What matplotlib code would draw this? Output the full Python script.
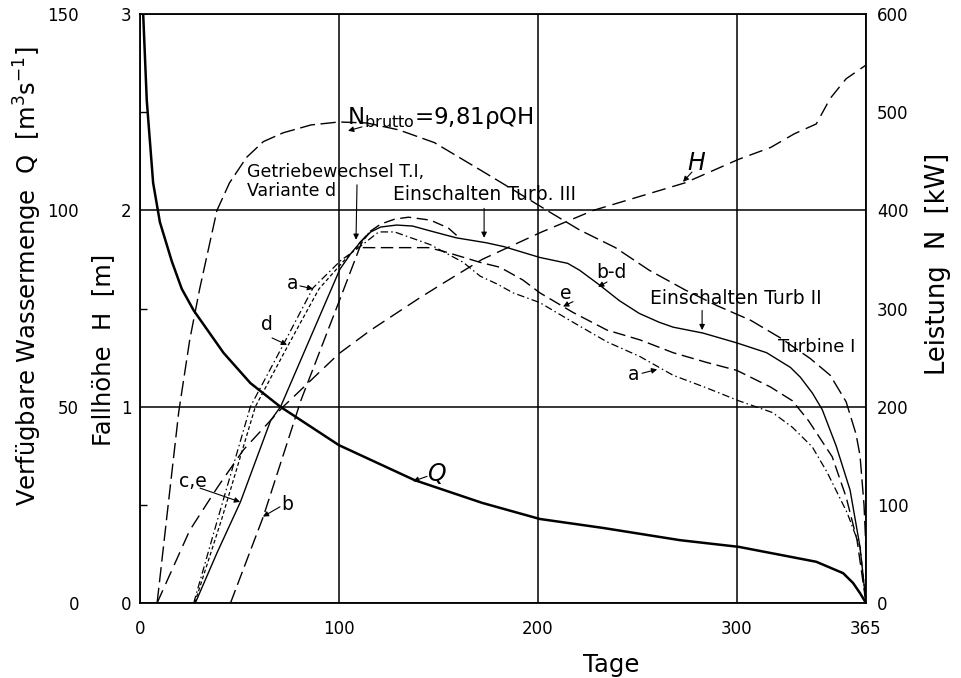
import matplotlib
matplotlib.use('Agg')
import matplotlib.pyplot as plt

# Wassermenge Q [m3/s]
q_days = [1.6, 3.4, 6.6, 10, 16, 21, 27, 42, 55.5, 70.5, 100, 138, 172, 201, 233, 271.5, 301, 340, 353.5, 358.5, 362, 365]
q_vals = [150, 128, 107, 97, 87, 80, 74.5, 63.7, 56, 50, 40.2, 31.3, 25.5, 21.4, 19.1, 16, 14.3, 10.5, 7.6, 5.1, 2.5, 0]

# Fallhoehe H [m]
h_days = [8.6, 25, 39, 52, 72, 100, 116, 140, 151, 172, 202, 228, 274, 301, 317, 329, 340, 347, 355, 365]
h_vals = [0, 0.37, 0.59, 0.78, 1.0, 1.27, 1.39, 1.55, 1.62, 1.75, 1.89, 2.0, 2.14, 2.26, 2.32, 2.39, 2.44, 2.57, 2.67, 2.74]

# Leistung N [kW]
nb_days = [8.6, 14, 19.5, 25, 30, 38.7, 45, 53.6, 62, 72, 86, 100, 114, 130, 148, 172, 190, 207, 221, 239, 256, 274, 290, 307, 322, 337, 347, 355, 360, 362, 364, 364.8, 365.2]
nb_vals = [0, 97, 195, 268, 320, 400, 428, 454, 470, 479, 487, 490, 489, 482, 469, 440, 418, 397, 380, 362, 339, 319, 303, 288, 270, 249, 232, 205, 172, 150, 100, 64, 0]

solid_days = [27.8, 38.7, 50.5, 65.7, 70.7, 100.5, 106, 111, 116, 121, 129, 137, 146, 159, 174, 183, 201, 215, 221, 231, 241, 251, 261, 268, 283, 300, 315, 327, 332, 338, 343, 350, 357, 362, 365]
solid_vals = [0, 51, 103, 186, 200, 340, 356, 368, 378, 383, 385, 384, 379, 372, 367, 363, 352, 346, 339, 324, 308, 295, 286, 281, 275, 265, 255, 240, 230, 214, 197, 160, 115, 57, 0]

a_days = [27, 39, 55.5, 72, 87, 101, 110, 120, 128, 146, 162.5, 171, 179.5, 187.5, 201, 217.7, 234.8, 251.4, 268, 285, 301, 318, 328, 338, 345.5, 355.5, 362, 365]
a_vals = [0, 85, 200, 263, 321, 349, 362, 378, 378, 365, 347, 333, 325, 316, 306, 286, 266, 251, 232, 219, 206, 194, 179, 159, 133, 92, 57, 0]

d_days = [27.5, 41, 58, 74.6, 90, 104, 113]
d_vals = [0, 85, 200, 263, 320, 352, 370]

b_days = [45.5, 62, 81, 101, 111, 115]
b_vals = [0, 88, 207, 312, 365, 377]

c_days = [110, 116, 121, 128, 135, 146, 155, 160]
c_vals = [366, 379, 386, 391, 393, 390, 382, 373]

e_days = [112, 145, 153, 171, 181, 192.5, 201, 217.7, 234.8, 251.4, 268, 285, 300, 317, 328, 336, 348, 355, 360.5, 365]
e_vals = [362, 362, 358, 347, 342, 329, 316, 296, 278, 268, 255, 245, 237, 220, 206, 186, 149, 108, 64, 0]

x_ticks = [0, 100, 200, 300, 365]
h_ticks = [0, 1, 2, 3]
q_ticks = [0, 50, 100, 150]
n_ticks = [0, 100, 200, 300, 400, 500, 600]

fig = plt.figure(figsize=(9.62, 6.78), dpi=100)
ax = fig.add_axes([140 / 962, 1 - 603 / 678, 726 / 962, 589 / 678])
ax_n = ax.twinx()
ax_q = ax.twinx()

# main axis: Fallhoehe
ax.set_xlim(0, 365)
ax.set_ylim(0, 3)
ax.set_xticks(x_ticks)
ax.set_yticks(h_ticks)
ax.set_yticks([0.5, 1.5, 2.5], minor=True)
ax.grid(True, which='major', color='black', lw=1.1)
ax.tick_params(axis='both', which='major', length=0, labelsize=12)
ax.tick_params(axis='x', pad=12)
ax.tick_params(axis='y', pad=6)
ax.tick_params(axis='y', which='minor', direction='in', length=5, width=1)
for s in ax.spines.values():
    s.set_linewidth(1.3)

# Wassermenge on outer left scale
ax_q.set_ylim(0, 150)
ax_q.yaxis.set_ticks_position('left')
ax_q.yaxis.set_label_position('left')
ax_q.set_yticks(q_ticks)
ax_q.tick_params(axis='y', length=0, pad=44, labelsize=12)
for s in ax_q.spines.values():
    s.set_visible(False)

# Leistung on right
ax_n.set_ylim(0, 600)
ax_n.set_yticks(n_ticks)
ax_n.set_yticks([100, 300, 500], minor=True)
ax_n.tick_params(axis='y', which='major', length=0, pad=8, labelsize=12)
ax_n.tick_params(axis='y', which='minor', direction='in', length=4, width=1)
for s in ax_n.spines.values():
    s.set_visible(False)

# curves
ax_q.plot(q_days, q_vals, color='black', lw=1.8)
ax.plot(h_days, h_vals, color='black', lw=1.0, dashes=(10, 5))
ax_n.plot(nb_days, nb_vals, color='black', lw=1.0, dashes=(11, 4))
ax_n.plot(solid_days, solid_vals, color='black', lw=1.0)
ax_n.plot(a_days, a_vals, color='black', lw=0.9, dashes=(6, 2.5, 1.2, 2.5))
ax_n.plot(d_days, d_vals, color='black', lw=0.9, dashes=(3, 2))
ax_n.plot(b_days, b_vals, color='black', lw=1.0, dashes=(10, 4))
ax_n.plot(c_days, c_vals, color='black', lw=1.0, dashes=(8, 4))
ax_n.plot(e_days, e_vals, color='black', lw=1.0, dashes=(9, 4))

# axis labels
ax.set_xlabel('Tage', fontsize=17.5)
ax.xaxis.set_label_coords(0.649, -0.085)
ax.set_ylabel('Fallhöhe  H  [m]', fontsize=17.5, va='center')
ax.yaxis.set_label_coords(-0.051, 0.43)
ax_q.set_ylabel('Verfügbare Wassermenge  Q  [m$^3$s$^{-1}$]', fontsize=17.5, va='center')
ax_q.yaxis.set_label_coords(-0.154, 0.555)
ax_n.set_ylabel('Leistung  N  [kW]', fontsize=18.5, va='center')
ax_n.yaxis.set_label_coords(1.099, 0.576)

# annotations (day, kW)
arr = dict(arrowstyle='-|>', lw=0.8, color='black', mutation_scale=8, shrinkA=0, shrinkB=0)

ax_n.text(104, 488, r'$\mathregular{N_{brutto}}$=9,81ρQH', fontsize=16.5, va='baseline')
ax_n.annotate('', xy=(104.6, 481), xytext=(111.6, 485), arrowprops=arr)

ax_n.text(53.8, 448, 'Getriebewechsel T.I,', fontsize=12.5, va='top')
ax_n.text(53.8, 429, 'Variante d', fontsize=12.5, va='top')
ax_n.annotate('', xy=(108.6, 370), xytext=(109.1, 426), arrowprops=arr)

ax_n.text(127.2, 416, 'Einschalten Turb. III', fontsize=13.5, va='center')
ax_n.annotate('', xy=(173, 372), xytext=(173, 402), arrowprops=arr)

ax_n.text(256.4, 310, 'Einschalten Turb II', fontsize=13.5, va='center')
ax_n.annotate('', xy=(282.6, 278), xytext=(282.6, 298), arrowprops=arr)

ax_n.text(320.8, 261, 'Turbine I', fontsize=13, va='center')

labels = [
    ('a', 76.9, 325, (87, 320), (80.4, 323)),
    ('d', 63.9, 284, (73.9, 263), (66.4, 270)),
    ('c,e', 26.6, 124, (50.3, 103), (30.2, 117)),
    ('b', 73.9, 100, (61.8, 88), (70.4, 98)),
    ('e', 214.2, 315, (212.7, 302), (217.7, 307)),
    ('b-d', 236.8, 337, (230.3, 322), (234.8, 327)),
    ('a', 248.4, 233, (260, 238), (252.4, 234)),
]
for txt, lx, ly, tip, start in labels:
    ax_n.text(lx, ly, txt, fontsize=13.5, ha='center', va='center')
    ax_n.annotate('', xy=tip, xytext=start, arrowprops=arr)

ax_n.text(148.8, 131, 'Q', fontsize=17, style='italic', ha='center', va='center')
ax_n.annotate('', xy=(137.3, 124), xytext=(144.3, 129), arrowprops=arr)
ax_n.text(279.5, 448, 'H', fontsize=17, style='italic', ha='center', va='center')
ax_n.annotate('', xy=(273, 429), xytext=(277.5, 439), arrowprops=arr)

fig.savefig('out.png', dpi=100)
